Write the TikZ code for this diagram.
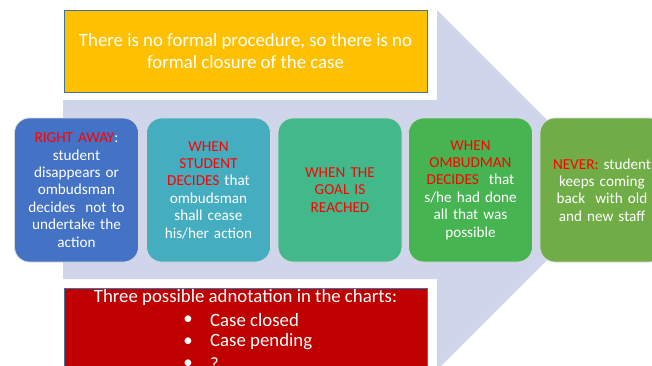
\documentclass[tikz,border=0pt]{standalone}
\usepackage{fontspec}
\setmainfont{Carlito}
\definecolor{arrowfill}{HTML}{CFD5EA}
\definecolor{noteyellow}{HTML}{FFC000}
\definecolor{notered}{HTML}{C00000}
\definecolor{noteline}{HTML}{41719C}
\definecolor{kred}{HTML}{FF0000}
\definecolor{cA}{HTML}{4472C4}
\definecolor{cB}{HTML}{44ADC0}
\definecolor{cC}{HTML}{43B98B}
\definecolor{cD}{HTML}{47B452}
\definecolor{cE}{HTML}{70AD47}
\newcommand{\kw}[1]{\textcolor{kred}{#1}}
\begin{document}
\begin{tikzpicture}[x=1pt,y=-1pt,
  stage/.style={draw=white!85!black, line width=0.8pt, rounded corners=15pt,
    minimum width=124, minimum height=144, text width=120, align=center,
    text=white, font=\fontsize{15.2}{17.4}\selectfont, inner sep=2pt},
  notebox/.style={draw=noteline, line width=0.8pt, text=white, align=center,
    font=\fontsize{18.8}{21.5}\selectfont},
  listtext/.style={text=white, font=\fontsize{18.8}{22}\selectfont, inner sep=0pt}]
\useasboundingbox (0,0) rectangle (652,365);
\clip (0,0) rectangle (652,365);

% big background arrow
\fill[arrowfill] (63,100) -- (437,100) -- (437,10) -- (617,190) -- (437,370)
  -- (437,279) -- (63,279) -- cycle;

% white mats behind the two note boxes
\fill[white] (55,0) rectangle (437,99.5);
\fill[white] (55,280) rectangle (437,365);

% top note
\node[notebox, fill=noteyellow, minimum width=363, minimum height=82] (top) at (245.5,51)
  {There is no formal procedure, so there is no\\formal closure of the case};

% bottom note
\node[notebox, fill=notered, minimum width=363, minimum height=100, anchor=north] (bottom) at (245.5,288) {};
\node[listtext] (title) at (245.5,297) {Three possible adnotation in the charts:};
\node[listtext] (b1) at (188,320) {•};
\node[listtext, anchor=west] (i1) at (210,320) {Case closed};
\node[listtext] (b2) at (188,342) {•};
\node[listtext, anchor=west] (i2) at (210,342) {Case pending};
\node[listtext] (b3) at (188,364.5) {•};
\node[listtext, anchor=west] (i3) at (210,364.5) {?};

% the five moments of closure
\node[stage, fill=cA] (s1) at (76.5,190)
  {\kw{RIGHT AWAY}:\\student\\disappears or\\ombudsman\\decides\ \ not to\\undertake the\\action};
\node[stage, fill=cB] (s2) at (208.5,190)
  {\kw{WHEN}\\\kw{STUDENT}\\\kw{DECIDES} that\\ombudsman\\shall cease\\his/her action};
\node[stage, fill=cC] (s3) at (340,190)
  {\kw{WHEN THE}\\\kw{GOAL IS}\\\kw{REACHED}};
\node[stage, fill=cD] (s4) at (470.5,190)
  {\kw{WHEN}\\\kw{OMBUDMAN}\\\kw{DECIDES}\ \ that\\s/he had done\\all that was\\possible};
\node[stage, fill=cE] (s5) at (602,190)
  {\kw{NEVER:} student\\keeps coming\\back\ \ with old\\and new staff};
\end{tikzpicture}
\end{document}
